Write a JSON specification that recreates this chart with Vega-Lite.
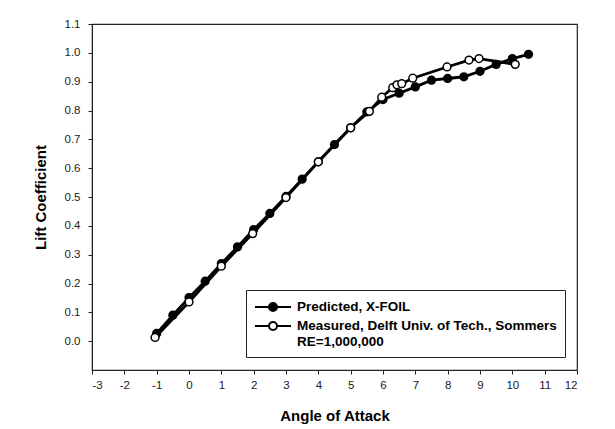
{
  "$schema": "https://vega.github.io/schema/vega-lite/v6.json",
  "autosize": {"type": "none"},
  "width": 485,
  "height": 346,
  "padding": {"left": 92, "top": 24, "right": 38, "bottom": 59},
  "background": "white",
  "config": {
    "font": "Liberation Sans",
    "view": {"stroke": "#222", "strokeWidth": 1.2},
    "axis": {
      "grid": false,
      "domainColor": "#222",
      "tickColor": "#222",
      "labelColor": "#222",
      "labelFont": "Liberation Sans",
      "labelFontSize": 11.5,
      "titleFont": "Liberation Sans",
      "titleFontSize": 15,
      "titleFontWeight": "bold",
      "titleColor": "black",
      "tickSize": 4
    }
  },
  "data": {
    "values": [
      {"series": "Predicted, X-FOIL", "aoa": -1.0, "cl": 0.027},
      {"series": "Predicted, X-FOIL", "aoa": -0.5, "cl": 0.09},
      {"series": "Predicted, X-FOIL", "aoa": 0.0, "cl": 0.151},
      {"series": "Predicted, X-FOIL", "aoa": 0.5, "cl": 0.208},
      {"series": "Predicted, X-FOIL", "aoa": 1.0, "cl": 0.269},
      {"series": "Predicted, X-FOIL", "aoa": 1.5, "cl": 0.327},
      {"series": "Predicted, X-FOIL", "aoa": 2.0, "cl": 0.387},
      {"series": "Predicted, X-FOIL", "aoa": 2.5, "cl": 0.443},
      {"series": "Predicted, X-FOIL", "aoa": 3.0, "cl": 0.502},
      {"series": "Predicted, X-FOIL", "aoa": 3.5, "cl": 0.562},
      {"series": "Predicted, X-FOIL", "aoa": 4.0, "cl": 0.622},
      {"series": "Predicted, X-FOIL", "aoa": 4.5, "cl": 0.682},
      {"series": "Predicted, X-FOIL", "aoa": 5.0, "cl": 0.74},
      {"series": "Predicted, X-FOIL", "aoa": 5.5, "cl": 0.795},
      {"series": "Predicted, X-FOIL", "aoa": 6.0, "cl": 0.838},
      {"series": "Predicted, X-FOIL", "aoa": 6.5, "cl": 0.86},
      {"series": "Predicted, X-FOIL", "aoa": 7.0, "cl": 0.882},
      {"series": "Predicted, X-FOIL", "aoa": 7.5, "cl": 0.905},
      {"series": "Predicted, X-FOIL", "aoa": 8.0, "cl": 0.911},
      {"series": "Predicted, X-FOIL", "aoa": 8.5, "cl": 0.917},
      {"series": "Predicted, X-FOIL", "aoa": 9.0, "cl": 0.936},
      {"series": "Predicted, X-FOIL", "aoa": 9.5, "cl": 0.96},
      {"series": "Predicted, X-FOIL", "aoa": 10.0, "cl": 0.98},
      {"series": "Predicted, X-FOIL", "aoa": 10.5, "cl": 0.995},
      {"series": "Measured, Delft Univ. of Tech., Sommers", "aoa": -1.05, "cl": 0.013},
      {"series": "Measured, Delft Univ. of Tech., Sommers", "aoa": 0.0, "cl": 0.136},
      {"series": "Measured, Delft Univ. of Tech., Sommers", "aoa": 1.0, "cl": 0.26},
      {"series": "Measured, Delft Univ. of Tech., Sommers", "aoa": 1.97, "cl": 0.373},
      {"series": "Measured, Delft Univ. of Tech., Sommers", "aoa": 3.0, "cl": 0.498},
      {"series": "Measured, Delft Univ. of Tech., Sommers", "aoa": 4.0, "cl": 0.622},
      {"series": "Measured, Delft Univ. of Tech., Sommers", "aoa": 5.0, "cl": 0.74},
      {"series": "Measured, Delft Univ. of Tech., Sommers", "aoa": 5.58, "cl": 0.797},
      {"series": "Measured, Delft Univ. of Tech., Sommers", "aoa": 5.96, "cl": 0.846},
      {"series": "Measured, Delft Univ. of Tech., Sommers", "aoa": 6.3, "cl": 0.879},
      {"series": "Measured, Delft Univ. of Tech., Sommers", "aoa": 6.43, "cl": 0.889},
      {"series": "Measured, Delft Univ. of Tech., Sommers", "aoa": 6.58, "cl": 0.893},
      {"series": "Measured, Delft Univ. of Tech., Sommers", "aoa": 6.92, "cl": 0.912},
      {"series": "Measured, Delft Univ. of Tech., Sommers", "aoa": 7.98, "cl": 0.951},
      {"series": "Measured, Delft Univ. of Tech., Sommers", "aoa": 8.66, "cl": 0.975},
      {"series": "Measured, Delft Univ. of Tech., Sommers", "aoa": 8.97, "cl": 0.98},
      {"series": "Measured, Delft Univ. of Tech., Sommers", "aoa": 10.09, "cl": 0.96}
    ]
  },
  "encoding": {
    "x": {
      "field": "aoa", "type": "quantitative",
      "scale": {"domain": [-3, 12], "nice": false, "zero": false},
      "axis": {"title": "Angle of Attack", "values": [-3,-2,-1,0,1,2,3,4,5,6,7,8,9,10,11,12], "labelExpr": "datum.value < 0 ? '-' + abs(datum.value) : '' + datum.value", "labelPadding": 5, "titlePadding": 18}
    },
    "y": {
      "field": "cl", "type": "quantitative",
      "scale": {"domain": [-0.1, 1.1], "nice": false, "zero": false},
      "axis": {"title": "Lift Coefficient", "values": [0,0.1,0.2,0.3,0.4,0.5,0.6,0.7,0.8,0.9,1.0,1.1], "format": ".1f", "labelPadding": 8, "titlePadding": 16}
    }
  },
  "layer": [
    {
      "mark": {"type": "line", "color": "black", "strokeWidth": 2.8},
      "encoding": {"detail": {"field": "series"}}
    },
    {
      "mark": {"type": "point", "filled": true, "stroke": "black", "strokeWidth": 1.5, "size": 60, "opacity": 1},
      "encoding": {
        "fill": {
          "field": "series", "type": "nominal",
          "scale": {"domain": ["Predicted, X-FOIL", "Measured, Delft Univ. of Tech., Sommers"], "range": ["black", "white"]},
          "legend": {
            "title": null,
            "orient": "none",
            "legendX": 154,
            "legendY": 266,
            "direction": "vertical",
            "strokeColor": "#222",
            "fillColor": "white",
            "padding": 8,
            "symbolType": "M-1,0H0.75M1.75,0H3.5M0.75,0A0.5,0.5 0 1,1 1.75,0A0.5,0.5 0 1,1 0.75,0Z",
            "symbolSize": 256,
            "symbolStrokeColor": "black",
            "symbolStrokeWidth": 2,
            "symbolOpacity": 1,
            "labelFont": "Liberation Sans",
            "labelFontSize": 13.5,
            "labelFontWeight": "bold",
            "labelColor": "black",
            "labelOffset": 25,
            "labelLimit": 400,
            "labelBaseline": "top",
            "rowPadding": 2,
            "labelExpr": "datum.label == 'Measured, Delft Univ. of Tech., Sommers' ? ['Measured, Delft Univ. of Tech., Sommers', 'RE=1,000,000'] : datum.label",
            "encode": {
              "labels": {"update": {"dy": {"value": -7}, "lineHeight": {"value": 16}}}
            }
          }
        }
      }
    }
  ]
}
